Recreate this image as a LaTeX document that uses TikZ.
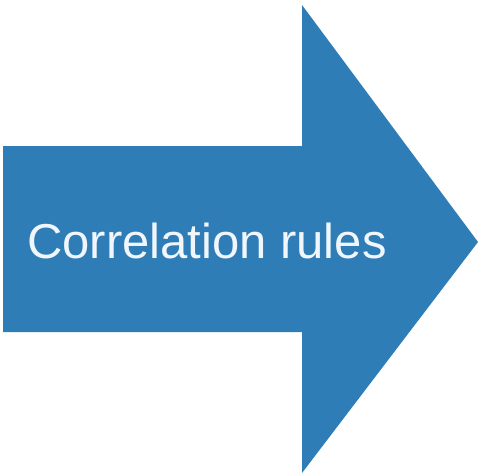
\documentclass[tikz,border=0pt]{standalone}
\usepackage{fontspec}
\setmainfont{Liberation Sans}
\definecolor{arrowblue}{RGB}{46,125,183}
\definecolor{textwhite}{RGB}{240,246,252}
\tikzset{
  bigarrow/.style={fill=arrowblue, draw=none},
  label/.style={text=textwhite, font=\fontsize{49}{58}\selectfont, inner sep=0pt, anchor=base west}
}
\begin{document}
\begin{tikzpicture}[x=1pt,y=-1pt]
\useasboundingbox (0,0) rectangle (479,476);
\fill[bigarrow] (3,146) -- (302,146) -- (302,5) -- (478,242) -- (302,473) -- (302,332) -- (3,332) -- cycle;
\node[label] (txt) at (27,258) {Correlation rules};
\end{tikzpicture}
\end{document}
